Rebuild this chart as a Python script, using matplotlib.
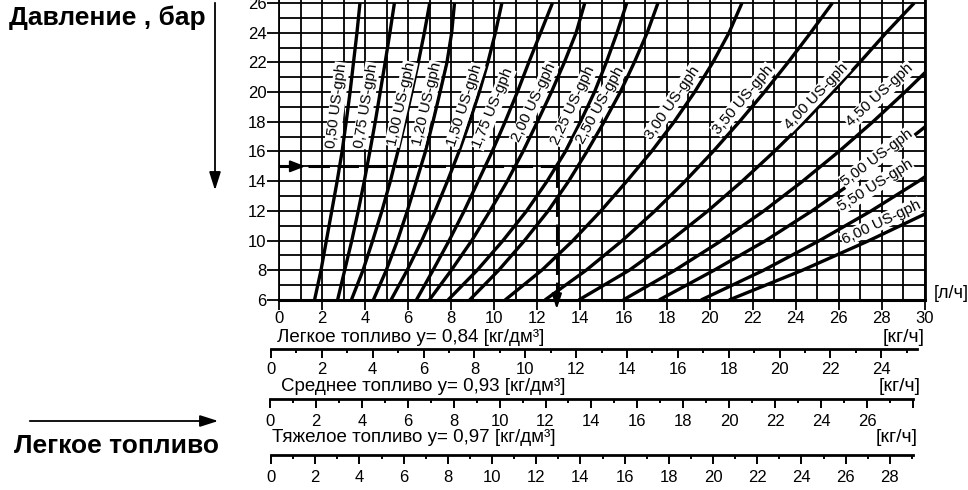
import numpy as np
import matplotlib.pyplot as plt

plt.rcParams['font.family'] = ['Liberation Sans', 'DejaVu Sans']

W, H = 968, 490

# ------------------------------------------------------------------
# данные
# ------------------------------------------------------------------
pressure = [6, 8, 10, 12, 14, 16, 18, 20, 22, 24, 26]   # бар

flow_050 = [1.65, 1.95, 2.20, 2.45, 2.70, 2.93, 3.12, 3.30, 3.46, 3.62, 3.76]
flow_075 = [2.72, 3.05, 3.38, 3.68, 3.96, 4.22, 4.47, 4.70, 4.93, 5.15, 5.36]
flow_100 = [3.36, 3.90, 4.35, 4.78, 5.17, 5.52, 5.86, 6.17, 6.47, 6.75, 7.00]
flow_120 = [4.38, 4.98, 5.50, 5.96, 6.38, 6.80, 7.15, 7.48, 7.80, 8.02, 8.15]
flow_150 = [5.20, 5.95, 6.63, 7.25, 7.82, 8.36, 8.85, 9.30, 9.70, 10.05, 10.35]
flow_175 = [6.38, 7.15, 7.90, 8.60, 9.25, 9.90, 10.50, 11.07, 11.60, 12.15, 12.70]
flow_200 = [6.98, 8.00, 8.95, 9.80, 10.60, 11.33, 12.00, 12.65, 13.25, 13.80, 14.20]
flow_225 = [7.85, 9.20, 10.40, 11.50, 12.45, 13.30, 14.00, 14.65, 15.20, 15.70, 16.15]
flow_250 = [8.85, 10.20, 11.40, 12.50, 13.45, 14.30, 15.10, 15.85, 16.50, 17.10, 17.60]
flow_300 = [10.50, 12.20, 13.65, 14.95, 16.15, 17.30, 18.35, 19.30, 20.15, 20.90, 21.50]
flow_350 = [12.35, 14.26, 15.94, 17.46, 18.86, 20.16, 21.38, 22.54, 23.64, 24.69, 25.70]
flow_400 = [13.92, 16.26, 18.18, 19.92, 21.51, 23.00, 24.40, 25.71, 26.97, 28.20, 29.50]
flow_450 = [15.98, 18.38, 20.55, 22.52, 24.32, 26.00, 27.58, 29.07, 30.49]
flow_500 = [17.65, 20.20, 22.60, 24.75, 26.72, 28.56, 30.30]
flow_550 = [19.60, 22.50, 25.10, 27.50, 29.70, 31.70]
flow_600 = [20.90, 24.30, 27.40, 30.30]

nozzle_names = ["0,50", "0,75", "1,00", "1,20", "1,50", "1,75", "2,00", "2,25",
                "2,50", "3,00", "3,50", "4,00", "4,50", "5,00", "5,50", "6,00"]
flows = [flow_050, flow_075, flow_100, flow_120, flow_150, flow_175, flow_200, flow_225,
         flow_250, flow_300, flow_350, flow_400, flow_450, flow_500, flow_550, flow_600]

# где стоят подписи форсунок (л/ч, бар)
label_flow = [2.69, 4.04, 5.67, 6.87, 8.64, 9.94, 11.84, 13.66,
              14.91, 18.25, 21.55, 24.94, 27.91, 27.77, 27.68, 27.96]
label_pres = [19.1, 19.1, 19.2, 19.2, 19.1, 18.9, 19.3, 19.1,
              19.1, 19.3, 19.5, 19.7, 19.8, 15.6, 13.7, 11.25]

# пример чтения: 15 бар -> ~12,9 л/ч
example_pres = 15
example_flow = 12.9

lh_ticks = list(range(0, 31, 2))
bar_ticks = list(range(6, 27, 2))
light_ticks = list(range(0, 25, 2))
medium_ticks = list(range(0, 27, 2))
heavy_ticks = list(range(0, 29, 2))


def fx(px):
    return px / W


def fy(py):
    return 1 - py / H


fig = plt.figure(figsize=(W / 100, H / 100), dpi=100)

# ------------------------------------------------------------------
# основная сетка
# ------------------------------------------------------------------
ax = fig.add_axes([fx(279), fy(300), (925 - 279) / W, 300 / H])
ax.set_xlim(0, 30)
ax.set_ylim(6, 26.2)
ax.set_xticks(lh_ticks)
ax.set_xticks(np.arange(1, 30, 2), minor=True)
ax.set_yticks(bar_ticks)
ax.set_yticks(np.arange(7, 27, 2), minor=True)
ax.set_axisbelow(True)
ax.grid(True, which='both', color='black', lw=1.3)
ax.tick_params(which='minor', length=0)
ax.tick_params(axis='x', which='major', direction='out', length=7, width=1.3,
               pad=1, labelsize=12)
ax.tick_params(axis='y', which='major', direction='out', length=8.5, width=1.3,
               pad=0.5, labelsize=12)
ax.spines['top'].set_visible(False)
ax.spines['left'].set_linewidth(1.3)
ax.spines['right'].set_linewidth(2)
ax.spines['bottom'].set_linewidth(2.2)

for name, q, lx, lp in zip(nozzle_names, flows, label_flow, label_pres):
    p = pressure[:len(q)]
    ax.plot(q, p, color='black', lw=2.4, solid_capstyle='butt', zorder=3)
    i = int(np.clip(np.searchsorted(p, lp), 1, len(p) - 1))
    (x0, y0), (x1, y1) = ax.transData.transform([(q[i - 1], p[i - 1]), (q[i], p[i])])
    ang = np.degrees(np.arctan2(y1 - y0, x1 - x0))
    ax.text(lx, lp, f"{name} US-gph", rotation=ang, rotation_mode='anchor',
            ha='center', va='center', fontsize=11, zorder=4,
            bbox=dict(facecolor='white', edgecolor='none', pad=0.6))

# пунктир примера
ax.plot([0, example_flow], [example_pres, example_pres], color='black', lw=2.2,
        dashes=(7, 2.5), zorder=3)
ax.plot([example_flow, example_flow], [example_pres, 6], color='black', lw=2.2,
        dashes=(7, 2.5), zorder=3)
ax.annotate('', xy=(1.35, example_pres), xytext=(0.6, example_pres),
            arrowprops=dict(arrowstyle='-|>,head_length=0.9,head_width=0.35',
                            color='black', lw=1.5), zorder=5)
ax.annotate('', xy=(example_flow, 5.2), xytext=(example_flow, 6.2),
            annotation_clip=False,
            arrowprops=dict(arrowstyle='-|>,head_length=0.9,head_width=0.3',
                            color='black', lw=1.5), zorder=5)

fig.text(fx(951), fy(294), "[л/ч]", ha='center', va='center', fontsize=13)


# ------------------------------------------------------------------
# шкалы кг/ч
# ------------------------------------------------------------------
def mass_scale(y_line, x_zero, px_per_unit, x_end, ticks, label_pad):
    top = (x_end - x_zero) / px_per_unit
    sax = fig.add_axes([fx(x_zero), fy(y_line), (x_end - x_zero) / W, 0.0001])
    sax.set_xlim(0, top)
    sax.set_yticks([])
    for s in ['left', 'right', 'top']:
        sax.spines[s].set_visible(False)
    sax.spines['bottom'].set_linewidth(2)
    major = [t for t in range(0, int(top) + 1, 2)]
    sax.set_xticks(major)
    sax.set_xticklabels([str(t) if t in ticks else '' for t in major])
    sax.set_xticks([t for t in range(1, int(top) + 1, 2)], minor=True)
    sax.tick_params(which='major', direction='out', length=6.5, width=1.4,
                    labelsize=12, pad=label_pad)
    sax.tick_params(which='minor', direction='out', length=3, width=1.4)
    sax.patch.set_visible(False)
    return sax


mass_scale(349, 271, 25.43, 917, light_ticks, 3)
mass_scale(399, 270, 22.96, 913, medium_ticks, 4.5)
mass_scale(455, 271, 22.10, 913, heavy_ticks, 4.5)

fig.text(fx(277), fy(337), "Легкое топливо у= 0,84 [кг/дм³]", ha='left', va='center', fontsize=13.5)
fig.text(fx(925), fy(337), "[кг/ч]", ha='right', va='center', fontsize=14)
fig.text(fx(281), fy(386), "Среднее топливо у= 0,93 [кг/дм³]", ha='left', va='center', fontsize=13.5)
fig.text(fx(921), fy(386), "[кг/ч]", ha='right', va='center', fontsize=14)
fig.text(fx(272), fy(437), "Тяжелое топливо у= 0,97 [кг/дм³]", ha='left', va='center', fontsize=13.5)
fig.text(fx(918), fy(437), "[кг/ч]", ha='right', va='center', fontsize=14)

# ------------------------------------------------------------------
# подписи слева
# ------------------------------------------------------------------
fig.text(fx(107), fy(18), "Давление , бар", ha='center', va='center',
         fontsize=19, fontweight='bold')
fig.text(fx(117), fy(446), "Легкое топливо", ha='center', va='center',
         fontsize=19, fontweight='bold')
fig.add_artist(plt.Annotation('', xy=(215, H - 193), xytext=(215, H),
                              xycoords='figure pixels', textcoords='figure pixels',
                              arrowprops=dict(arrowstyle='-|>,head_length=1.1,head_width=0.35',
                                              color='black', lw=1.3)))
fig.add_artist(plt.Annotation('', xy=(221, H - 421), xytext=(27, H - 421),
                              xycoords='figure pixels', textcoords='figure pixels',
                              arrowprops=dict(arrowstyle='-|>,head_length=1.1,head_width=0.35',
                                              color='black', lw=1.3)))

fig.savefig("out.png", dpi=100)
